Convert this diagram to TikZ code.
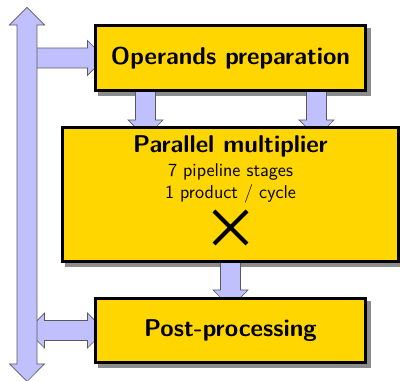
\documentclass[tikz,border=0pt]{standalone}
\usepackage{tikz}
\usetikzlibrary{shapes.arrows, shapes.misc, positioning, calc}
\definecolor{boxyellow}{RGB}{255,214,0}
\definecolor{arrowblue}{RGB}{192,192,255}
\pgfdeclarelayer{shade}
\pgfdeclarelayer{links}
\pgfsetlayers{shade,links,main}
\tikzstyle{block} = [rectangle, draw=black, line width=0.75mm, fill=boxyellow, outer sep=0pt, font=\sffamily\LARGE\bfseries]
\tikzstyle{fatarrow} = [single arrow, draw=black!65, fill=arrowblue, line width=0.5pt, inner xsep=0pt, inner ysep=2.4mm, outer sep=0pt, single arrow head extend=1.9mm, anchor=tail]
\tikzstyle{fatdarrow} = [double arrow, draw=black!65, fill=arrowblue, line width=0.5pt, inner xsep=0pt, inner ysep=2.4mm, outer sep=0pt, double arrow head extend=1.9mm, anchor=tip 2]
\tikzstyle{boxshadow} = [fill=black!45]

% fat arrow node stretched from #2 to #3
\newcommand{\fatlink}[3]{%
  \path let \p1=($(#3)-(#2)$), \n1={veclen(\x1,\y1)}, \n2={atan2(\y1,\x1)} in
    node[#1, minimum height=\n1, rotate=\n2] at (#2) {};}

\begin{document}
\begin{tikzpicture}[x=0.25mm, y=-0.25mm, font=\sffamily, node distance=9.25mm]
  \useasboundingbox (0,0) rectangle (400,381);

  % pipeline blocks
  \node[block, minimum width=67.5mm, minimum height=16.25mm] (prep) at (230.5,58) {Operands preparation};
  \node[block, minimum width=84mm, minimum height=33.5mm, below=of prep] (mult) {};
  \node[block, minimum width=67.5mm, minimum height=16mm, below=of mult] (post) {Post-processing};

  % multiplier text and sign
  \node[below=0.8mm of mult.north, align=center, font=\sffamily\fontsize{13.2}{16}\selectfont] (multtxt) {{\LARGE\bfseries Parallel multiplier}\\[1pt]7 pipeline stages\\1 product / cycle};
  \node[cross out, draw, line width=1mm, minimum size=7.25mm, inner sep=0pt, below=0.6mm of multtxt] (times) {};

  % shadows
  \begin{pgfonlayer}{shade}
    \foreach \b in {prep, mult, post}
      \fill[boxshadow] ([shift={(2.5,2.5)}]\b.north west) rectangle ([shift={(5.5,5.5)}]\b.south east);
  \end{pgfonlayer}

  % link end points
  \coordinate (busN) at (27,7.5);
  \coordinate (busS) at (27,381.5);
  \coordinate (prepA) at (busN |- prep.west);
  \path (prep.west) ++(9.5,0) coordinate (prepB);
  \coordinate (postA) at (busN |- post.west);
  \path (post.west) ++(9.5,0) coordinate (postB);
  \path (prep.south) ++(-85,-10) coordinate (leftA);
  \path (leftA |- mult.north) ++(0,10) coordinate (leftB);
  \path (prep.south) ++(86,-10) coordinate (rightA);
  \path (rightA |- mult.north) ++(0,10) coordinate (rightB);
  \path (mult.south) ++(0,-10) coordinate (downA);
  \path (post.north) ++(0,9) coordinate (downB);

  \begin{pgfonlayer}{links}
    \fatlink{fatarrow}{prepA}{prepB}
    \fatlink{fatdarrow}{postA}{postB}
    \fatlink{fatdarrow}{busN}{busS}
    \fatlink{fatarrow}{leftA}{leftB}
    \fatlink{fatarrow}{rightA}{rightB}
    \fatlink{fatarrow}{downA}{downB}
  \end{pgfonlayer}
\end{tikzpicture}
\end{document}
